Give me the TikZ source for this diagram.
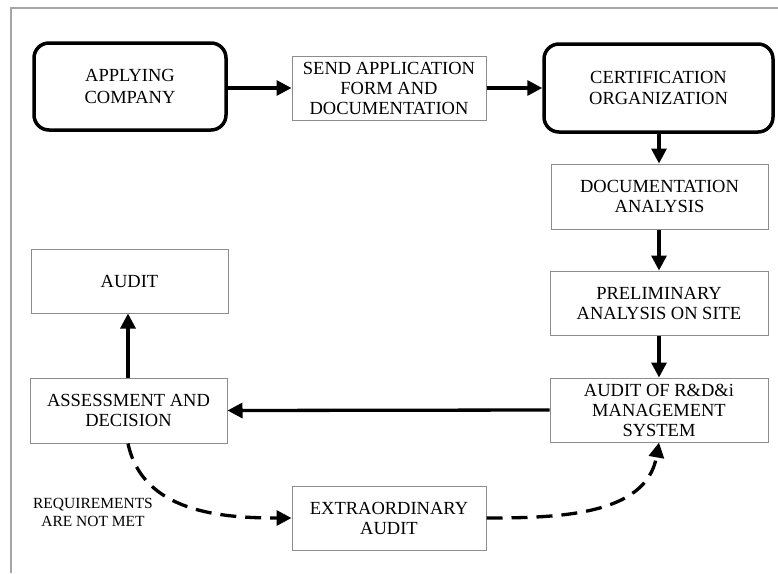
\documentclass[tikz,border=0pt]{standalone}
\usepackage{fontspec}
\setmainfont{Liberation Serif}
\usetikzlibrary{arrows.meta}
\definecolor{framegray}{RGB}{165,165,165}
\definecolor{boxgray}{RGB}{140,140,140}
\tikzset{
  plainbox/.style={draw=boxgray, line width=1pt, align=center, inner sep=0pt,
    font=\fontsize{18.5}{20}\selectfont},
  roundbox/.style={draw=black, line width=3.5pt, rounded corners=15pt, align=center, inner sep=0pt,
    font=\fontsize{18.5}{21.5}\selectfont},
  flow/.style={line width=3.3pt, -{Triangle[length=15pt,width=15pt]}},
  dflow/.style={flow, dash pattern=on 16pt off 9pt},
  note/.style={align=center, font=\fontsize{15.5}{18}\selectfont}
}
\begin{document}
\begin{tikzpicture}[x=1pt,y=-1pt]
\useasboundingbox (0,0) rectangle (778,573);
\draw[framegray, line width=1.3pt] (11,573) -- (11,8) -- (778,8);

\node[roundbox, minimum width=192pt, minimum height=87pt] (app) at (130,86.5) {APPLYING\\COMPANY};
\node[plainbox, minimum width=194pt, minimum height=64pt] (send) at (389,88) {SEND APPLICATION\\FORM AND\\DOCUMENTATION};
\node[roundbox, minimum width=229pt, minimum height=88pt] (cert) at (658.5,88) {CERTIFICATION\\ORGANIZATION};
\node[plainbox, minimum width=217pt, minimum height=65pt] (da) at (659.5,196.5) {DOCUMENTATION\\ANALYSIS};
\node[plainbox, minimum width=218pt, minimum height=64pt] (pa) at (659,303) {PRELIMINARY\\ANALYSIS ON SITE};
\node[plainbox, minimum width=218pt, minimum height=64pt] (ar) at (659,410) {AUDIT OF R\&D\&i\\MANAGEMENT\\SYSTEM};
\node[plainbox, minimum width=197pt, minimum height=65pt] (as) at (128.5,410.5) {ASSESSMENT AND\\DECISION};
\node[plainbox, minimum width=197pt, minimum height=64pt] (aud) at (129.5,281) {AUDIT};
\node[plainbox, minimum width=194pt, minimum height=64pt] (ex) at (389,518) {EXTRAORDINARY\\AUDIT};
\node[note] (req) at (93,512) {REQUIREMENTS\\ARE NOT MET};

\draw[flow] (app.east |- send.west) -- (send.west);
\draw[flow] (send.east) -- (cert.west);
\draw[flow] (cert.south -| 659,0) -- (659,0 |- da.north);
\draw[flow] (da.south -| 659,0) -- (659,0 |- pa.north);
\draw[flow] (pa.south -| 659,0) -- (659,0 |- ar.north);
\draw[flow] (ar.west) -- (as.east);
\draw[flow] (as.north -| 128,0) -- (128,0 |- aud.south);
\draw[dflow] (as.south -| 128,0) to[out=-78,in=180] (ex.west);
\draw[dflow] (ex.east) to[out=0,in=-100] (659,0 |- ar.south);
\end{tikzpicture}
\end{document}
